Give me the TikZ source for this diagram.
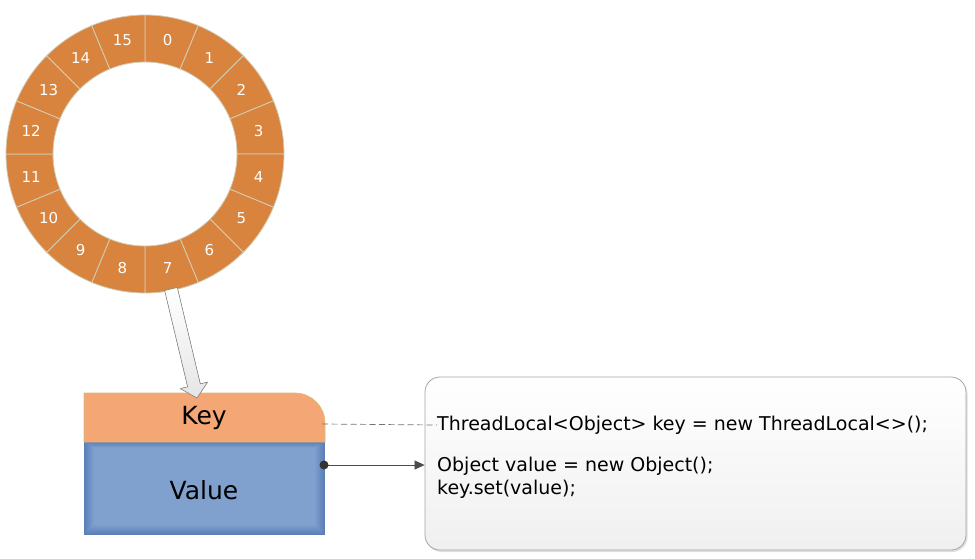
\documentclass[tikz,border=0pt]{standalone}
\usepackage{fontspec}
\setmainfont{DejaVu Sans}
\usetikzlibrary{calc,shadows,arrows.meta}
\definecolor{ringor}{RGB}{216,132,62}
\definecolor{ringline}{RGB}{210,205,180}
\definecolor{keyor}{RGB}{244,166,116}
\definecolor{keyedge}{RGB}{215,190,120}
\definecolor{valin}{RGB}{128,161,206}
\definecolor{valout}{RGB}{90,126,184}
\definecolor{boxedge}{RGB}{165,165,165}
\tikzset{
  seg/.style={fill=ringor, draw=ringline, line width=0.8pt},
  seglabel/.style={text=white, font=\fontsize{15}{15}\selectfont, inner sep=0pt},
  bigtxt/.style={font=\fontsize{25}{25}\selectfont, text=black, inner sep=0pt},
  codetxt/.style={font=\fontsize{19}{19}\selectfont, text=black, anchor=west, inner sep=0pt},
  codebox/.style={draw=boxedge, line width=0.8pt, rounded corners=15pt, top color=white, bottom color=black!6,
     minimum width=541pt, minimum height=173pt, drop shadow={opacity=0.25, shadow xshift=1.5pt, shadow yshift=-2pt}},
  hollow/.style={draw=black!45, line width=0.6pt, top color=white, bottom color=black!10},
  conn/.style={line width=0.7pt, draw=black!70},
}
\begin{document}
\begin{tikzpicture}[x=1pt,y=-1pt]
\useasboundingbox (0,0) rectangle (975,559);
% ring
\coordinate (c) at (145,154);
\foreach \k in {0,...,15}{
  \pgfmathsetmacro\aa{90-22.5*\k}
  \pgfmathsetmacro\ab{\aa-22.5}
  \pgfmathsetmacro\am{\aa-11.25}
  \filldraw[seg] ($(c)+(\aa:139pt)$) arc[start angle=\aa, end angle=\ab, radius=139pt]
     -- ($(c)+(\ab:92pt)$) arc[start angle=\ab, end angle=\aa, radius=92pt] -- cycle;
  \node[seglabel] (s\k) at ($(c)+(\am:116pt)$) {\k};
}
% key / value block (value with soft darker edges)
\foreach \i in {0,...,10}{
  \pgfmathsetmacro\pc{\i*10}
  \fill[valin!\pc!valout] (84+\i,442+\i*0.6) rectangle (325-\i,535-\i);
}
\filldraw[fill=keyor, draw=keyedge, line width=0.6pt] (84,442) -- (84,393) -- (295,393)
   arc[start angle=90, end angle=0, radius=30pt] -- (325,442) -- cycle;
\node[bigtxt] (keytxt) at (204,418) {Key};
\node[bigtxt] (valtxt) at (204,490) {Value};
\coordinate (keyR) at (322,424);
\coordinate (valR) at (324,465);
% hollow arrow from ring to key
\coordinate (ra) at (171,289);
\coordinate (rb) at (197,398);
\coordinate (hb) at ($(rb)!13pt!(ra)$);
\filldraw[hollow] ($(ra)!6.5pt!90:(rb)$) -- ($(hb)!6.5pt!-90:(ra)$) -- ($(hb)!14pt!-90:(ra)$) -- (rb)
   -- ($(hb)!14pt!90:(ra)$) -- ($(hb)!6.5pt!90:(ra)$) -- ($(ra)!6.5pt!-90:(rb)$) -- cycle;
% code box
\node[codebox] (code) at (695.5,463.5) {};
\node[codetxt] (l1) at (437,425) {ThreadLocal<Object> key = new ThreadLocal<>();};
\node[codetxt] (l2) at (437,466) {Object value = new Object();};
\node[codetxt] (l3) at (437,489) {key.set(value);};
% connectors
\draw[conn, dash pattern=on 6pt off 3.5pt, draw=black!55] (keyR) -- (l1.west);
\draw[conn, -{Triangle[length=10pt,width=9pt]}] (valR) -- (code.west |- valR);
\fill[black!80] (valR) circle (4.5pt);
\end{tikzpicture}
\end{document}
